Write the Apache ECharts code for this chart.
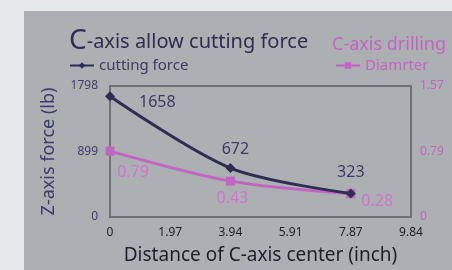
<!DOCTYPE html>
<html>
<head>
<meta charset="utf-8">
<script src="https://cdn.jsdelivr.net/npm/echarts@6/dist/echarts.min.js"></script>
<style>
  html, body { margin: 0; padding: 0; background: #e7e8e9; }
  #chart { width: 452px; height: 270px; }
</style>
</head>
<body>
<div id="chart"></div>
<script>
// data
var xTicks = ['0', '1.97', '3.94', '5.91', '7.87', '9.84'];
var distances = ['0', '3.94', '7.87'];
var cuttingForce = [1658, 672, 323];
var diameter = [0.79, 0.43, 0.28];
var forceTicks = [0, 899, 1798];
var diaTicks = [0, 0.79, 1.57];

// label placement for each point
var forceLabelPos = [
  { position: 'right', distance: 24, offset: [0, 6] },
  { position: 'top', distance: 6, offset: [5, 0] },
  { position: 'top', distance: 8, offset: [0, 0] }
];
var diaLabelPos = [
  { position: 'bottom', distance: 9, offset: [23, 0] },
  { position: 'bottom', distance: 5, offset: [2, 0] },
  { position: 'right', distance: 6, offset: [0, 8] }
];

var navy = '#2c2e52';
var pink = '#c264c4';

var chart = echarts.init(document.getElementById('chart'));

function pts(vals, labels) {
  return vals.map(function (v, i) {
    return { value: [distances[i], v], label: labels[i] };
  });
}

var option = {
  backgroundColor: '#e7e8e9',
  graphic: [{
    type: 'rect',
    shape: { x: 24, y: 11, width: 440, height: 270 },
    style: { fill: '#adb0b2' },
    z: -10
  }],
  title: [{
    left: 64, top: 22,
    text: '{c|C}{t|-axis allow cutting force}',
    textStyle: {
      rich: {
        c: { fontSize: 28, color: navy, fontFamily: 'Noto Sans', fontWeight: 'normal' },
        t: { fontSize: 20, color: navy, fontFamily: 'Noto Sans', fontWeight: 'normal', padding: [3, 0, 0, 0] }
      }
    }
  }, {
    left: 327, top: 31,
    text: 'C-axis drilling',
    textStyle: { fontSize: 18, color: pink, fontWeight: 'normal', fontFamily: 'Noto Sans' }
  }],
  legend: [{
    data: ['cutting force'],
    left: 64, top: 53,
    itemWidth: 24, itemHeight: 8, itemGap: 4,
    textStyle: { color: '#3a3c62', fontSize: 15, fontFamily: 'Noto Sans' }
  }, {
    data: ['Diamrter'],
    left: 330, top: 53,
    itemWidth: 24, itemHeight: 8,
    textStyle: { color: pink, fontSize: 15, fontFamily: 'Noto Sans' }
  }],
  grid: {
    left: 110, right: 41, top: 86, bottom: 47,
    show: true,
    borderColor: '#6e7173', borderWidth: 2,
    backgroundColor: 'transparent'
  },
  xAxis: {
    type: 'category',
    data: xTicks,
    boundaryGap: false,
    name: 'Distance of C-axis center (inch)',
    nameLocation: 'middle',
    nameGap: 29,
    nameTextStyle: { fontSize: 19, color: '#1e1f2b', fontFamily: 'Noto Sans' },
    axisLine: { show: false },
    axisTick: { show: false },
    splitLine: { show: false },
    axisLabel: { color: '#222', fontSize: 12, margin: 10, fontFamily: 'Noto Sans' }
  },
  yAxis: [{
    type: 'value',
    min: 0, max: forceTicks[2], interval: forceTicks[1],
    name: 'Z-axis force (lb)',
    nameLocation: 'middle',
    nameGap: 52,
    nameTextStyle: { fontSize: 18, color: '#3a3c6c', fontFamily: 'Noto Sans' },
    axisLine: { show: false },
    axisTick: { show: false },
    splitLine: { show: false },
    axisLabel: {
      color: '#3c3e6c', fontSize: 12, margin: 12, fontFamily: 'Noto Sans',
      formatter: function (v) { return String(v); }
    }
  }, {
    type: 'value',
    min: 0, max: 1.57, interval: 0.785,
    axisLine: { show: false },
    axisTick: { show: false },
    splitLine: { show: false },
    axisLabel: {
      color: pink, fontSize: 12, margin: 9, fontFamily: 'Noto Sans',
      formatter: function (v) {
        var i = Math.round(v / 0.785);
        return String(diaTicks[i]);
      }
    }
  }],
  series: [{
    name: 'cutting force',
    type: 'line',
    smooth: 0.3,
    yAxisIndex: 0,
    symbol: 'diamond',
    symbolSize: 10,
    lineStyle: { color: navy, width: 3 },
    itemStyle: { color: navy },
    label: {
      show: true, color: '#3a3c66', fontSize: 16, fontFamily: 'Noto Sans',
      formatter: function (p) { return p.value[1]; }
    },
    data: pts(cuttingForce, forceLabelPos),
    z: 3
  }, {
    name: 'Diamrter',
    type: 'line',
    smooth: 0.3,
    yAxisIndex: 1,
    symbol: 'rect',
    symbolSize: 9,
    lineStyle: { color: pink, width: 3 },
    itemStyle: { color: pink },
    label: {
      show: true, color: '#d272d4', fontSize: 16, fontFamily: 'Noto Sans',
      formatter: function (p) { return p.value[1]; }
    },
    data: pts(diameter, diaLabelPos),
    z: 2
  }]
};

chart.setOption(option);
</script>
</body>
</html>
